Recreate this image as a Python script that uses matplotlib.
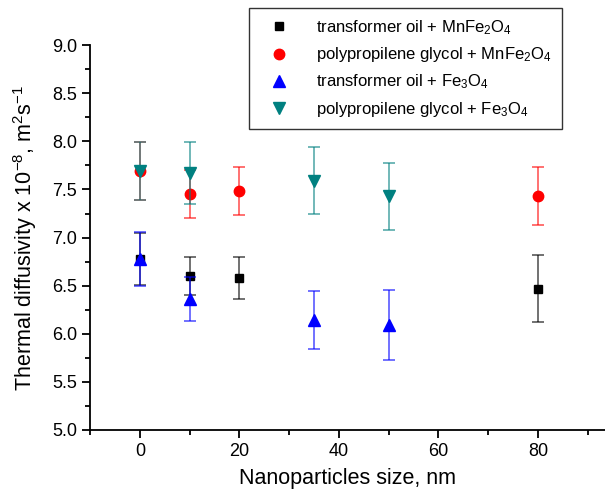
import matplotlib
matplotlib.use('Agg')
import matplotlib.pyplot as plt

plt.rcParams['font.family'] = ['Liberation Sans', 'DejaVu Sans']
plt.rcParams['mathtext.fontset'] = 'custom'
plt.rcParams['mathtext.rm'] = 'Liberation Sans'
plt.rcParams['mathtext.default'] = 'regular'
plt.rcParams['axes.unicode_minus'] = False

# transformer oil + MnFe2O4
x_to_mn = [0, 10, 20, 80]
y_to_mn = [6.78, 6.60, 6.58, 6.47]
e_to_mn = [0.27, 0.20, 0.22, 0.35]

# polypropilene glycol + MnFe2O4
x_pg_mn = [0, 10, 20, 80]
y_pg_mn = [7.69, 7.45, 7.48, 7.43]
e_pg_mn = [0.30, 0.25, 0.25, 0.30]

# transformer oil + Fe3O4
x_to_fe = [0, 10, 35, 50]
y_to_fe = [6.78, 6.36, 6.14, 6.09]
e_to_fe = [0.28, 0.23, 0.30, 0.36]

# polypropilene glycol + Fe3O4
x_pg_fe = [0, 10, 35, 50]
y_pg_fe = [7.69, 7.67, 7.59, 7.43]
e_pg_fe = [0.30, 0.32, 0.35, 0.35]

fig = plt.figure(figsize=(6.05, 4.97), dpi=100)
ax = fig.add_axes([0.149, 0.135, 0.851, 0.774])

series = [
    (x_to_mn, y_to_mn, e_to_mn, 's', 'black', 6.2, 'transformer oil + MnFe$_2$O$_4$'),
    (x_pg_mn, y_pg_mn, e_pg_mn, 'o', 'red', 7.5, 'polypropilene glycol + MnFe$_2$O$_4$'),
    (x_to_fe, y_to_fe, e_to_fe, '^', 'blue', 8.5, 'transformer oil + Fe$_3$O$_4$'),
    (x_pg_fe, y_pg_fe, e_pg_fe, 'v', '#008080', 8.5, 'polypropilene glycol + Fe$_3$O$_4$'),
]

for xs, ys, es, m, c, ms, lab in series:
    ax.errorbar(xs, ys, yerr=es, fmt='none', ecolor=c, elinewidth=1.2,
                capsize=4, capthick=1.2, alpha=0.65)
    ax.plot(xs, ys, linestyle='none', marker=m, color=c, markersize=ms, label=lab)

ax.set_xlim(-10, 93.5)
ax.set_ylim(5.0, 9.0)
ax.set_xticks([0, 20, 40, 60, 80])
ax.set_xticks([-10, 10, 30, 50, 70, 90], minor=True)
ax.set_yticks([5.0, 5.5, 6.0, 6.5, 7.0, 7.5, 8.0, 8.5, 9.0])
ax.set_yticks([5.25, 5.75, 6.25, 6.75, 7.25, 7.75, 8.25, 8.75], minor=True)
ax.yaxis.set_major_formatter(matplotlib.ticker.FormatStrFormatter('%.1f'))
ax.spines['top'].set_visible(False)
ax.spines['right'].set_visible(False)
ax.spines['left'].set_linewidth(1.3)
ax.spines['bottom'].set_linewidth(1.3)
ax.tick_params(axis='both', which='major', length=6, width=1.3, labelsize=13)
ax.tick_params(axis='both', which='minor', length=3.5, width=1.3)

ax.set_xlabel('Nanoparticles size, nm', fontsize=15.5, labelpad=6)
ax.set_ylabel('Thermal diffusivity x 10$^{-8}$, m$^{2}$s$^{-1}$', fontsize=15.5, labelpad=9)

leg = fig.legend(loc='upper left', bbox_to_anchor=(241 / 605, 1 - 0 / 497),
                 fontsize=12, frameon=True, fancybox=False, edgecolor='black',
                 borderpad=0.6, labelspacing=0.5, handletextpad=1.0, handlelength=2.4)
leg.get_frame().set_linewidth(1.0)

fig.savefig('out.png', dpi=100)
